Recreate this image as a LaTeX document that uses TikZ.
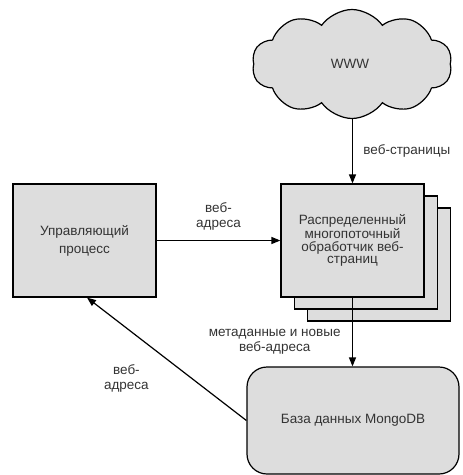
\documentclass[tikz,border=0pt]{standalone}
\usepackage{fontspec}
\setmainfont{Liberation Sans}
\usetikzlibrary{arrows.meta,positioning,shapes.symbols}
\definecolor{boxgray}{HTML}{DDDDDD}
\definecolor{txtgray}{HTML}{333333}

\begin{document}
\begin{tikzpicture}[x=1pt, y=-1pt, >={Triangle[length=9pt,width=7pt]}, line width=1.2pt,
  every node/.style={font=\fontsize{13.5}{15}\selectfont, text=txtgray, align=center},
  box/.style={draw, fill=boxgray, minimum width=143pt, minimum height=113pt, inner sep=0pt},
  lbl/.style={font=\fontsize{13.5}{15}\selectfont}]
  \useasboundingbox (0,0) rectangle (463,475);
  \node[cloud, draw, fill=boxgray, cloud puffs=10, cloud puff arc=110, aspect=2.35,
    minimum width=200pt, minimum height=109pt, inner sep=0pt] (www) at (352,64) {};
  \node at ([xshift=-2pt]www.center) {WWW};
  \node[box] (proc3) at (379,264.5) {};
  \node[box] (proc2) at (366,252.5) {};
  \node[box, font=\fontsize{13.5}{12.5}\selectfont] (proc) at (352.5,240.5)
    {Распределенный\\ многопоточный\\ обработчик веб-\\ страниц};
  \node[box, font=\fontsize{13.5}{18}\selectfont] (ctrl) at (84.5,240.5) {Управляющий\\ процесс};
  \node[box, rounded corners=20pt, minimum width=212pt, minimum height=107pt] (db) at (353,420.5)
    {База данных MongoDB};
  \draw[->] (proc.north |- www.south) -- node[lbl, right=7pt]{веб-страницы} (proc.north);
  \draw[->] (ctrl) -- node[lbl, above=6pt]{веб-\\адреса} (proc);
  \draw[->] (proc.south) -- node[lbl, pos=0.64, left=8pt]{метаданные и новые\\веб-адреса} (proc.south |- db.north);
  \draw[->] (db.west) -- node[lbl, midway, anchor=north east, xshift=-14pt, yshift=-2pt]{веб-\\адреса} ([xshift=2.5pt]ctrl.south);
\end{tikzpicture}
\end{document}
